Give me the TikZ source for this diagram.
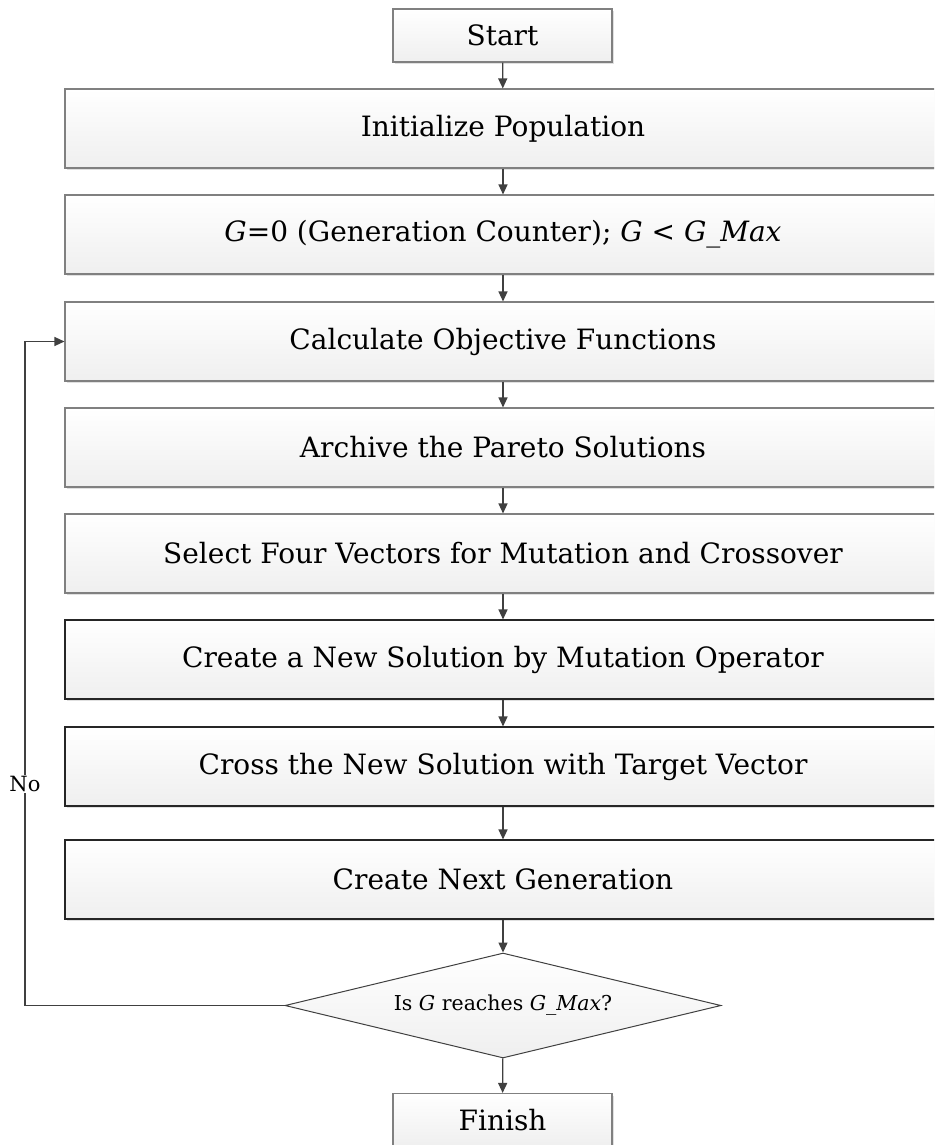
\documentclass[tikz,border=0pt]{standalone}
\usepackage{fontspec}
\setmainfont{DejaVu Serif}
\usetikzlibrary{shapes.geometric,arrows.meta,shadows}
\definecolor{linec}{HTML}{404040}
\definecolor{grayb}{HTML}{808080}
\definecolor{darkb}{HTML}{262626}
\definecolor{shadec}{HTML}{EFEFEF}
\tikzset{
  x=1pt,y=1pt,
  box/.style={draw=grayb, line width=1.1pt, top color=white, bottom color=shadec,
    minimum width=876pt, minimum height=79pt, inner sep=0pt,
    font=\fontsize{28}{34}\selectfont,
    drop shadow={shadow xshift=2pt, shadow yshift=-2pt, fill=black, opacity=0.12}},
  darkbox/.style={box, draw=darkb},
  term/.style={box, minimum width=219pt, minimum height=53pt},
  decision/.style={shape=diamond, draw=linec, line width=1pt, top color=white, bottom color=shadec,
    minimum width=436pt, minimum height=105pt, aspect=4.15, inner sep=0pt,
    font=\fontsize{20.5}{24}\selectfont},
  conn/.style={draw=linec, line width=1.3pt, -{Triangle[length=10pt,width=9pt]}},
  lbl/.style={font=\fontsize{21}{25}\selectfont, fill=white, inner sep=1pt}
}
\begin{document}
\begin{tikzpicture}
\useasboundingbox (0,0) rectangle (934,-1145);
\clip (0,0) rectangle (934,-1145);
\node[term] (start) at (502.5,-35.5) {Start};
\node[box] (b1) at (503,-128.5) {Initialize Population};
\node[box] (b2) at (503,-234.5) {\textit{G}=0 (Generation Counter); \textit{G} < \textit{G\_Max}};
\node[box] (b3) at (503,-341.5) {Calculate Objective Functions};
\node[box] (b4) at (503,-447.5) {Archive the Pareto Solutions};
\node[box] (b5) at (503,-553.5) {Select Four Vectors for Mutation and Crossover};
\node[darkbox] (b6) at (503,-659.5) {Create a New Solution by Mutation Operator};
\node[darkbox] (b7) at (503,-766.5) {Cross the New Solution with Target Vector};
\node[darkbox] (b8) at (503,-879.5) {Create Next Generation};
\node[decision] (dec) at (503,-1005.5) {Is \textit{G} reaches \textit{G\_Max}?};
\node[term] (fin) at (502.5,-1120) {Finish};
\coordinate (lc) at (25,-1005.5);
\draw[conn] (start) -- (b1);
\draw[conn] (b1) -- (b2);
\draw[conn] (b2) -- (b3);
\draw[conn] (b3) -- (b4);
\draw[conn] (b4) -- (b5);
\draw[conn] (b5) -- (b6);
\draw[conn] (b6) -- (b7);
\draw[conn] (b7) -- (b8);
\draw[conn] (b8) -- (dec);
\draw[conn] (dec) -- (fin);
\draw[conn] (dec.west) -- (lc) |- (b3.west) node[pos=0.167, lbl] {No};
\end{tikzpicture}
\end{document}
